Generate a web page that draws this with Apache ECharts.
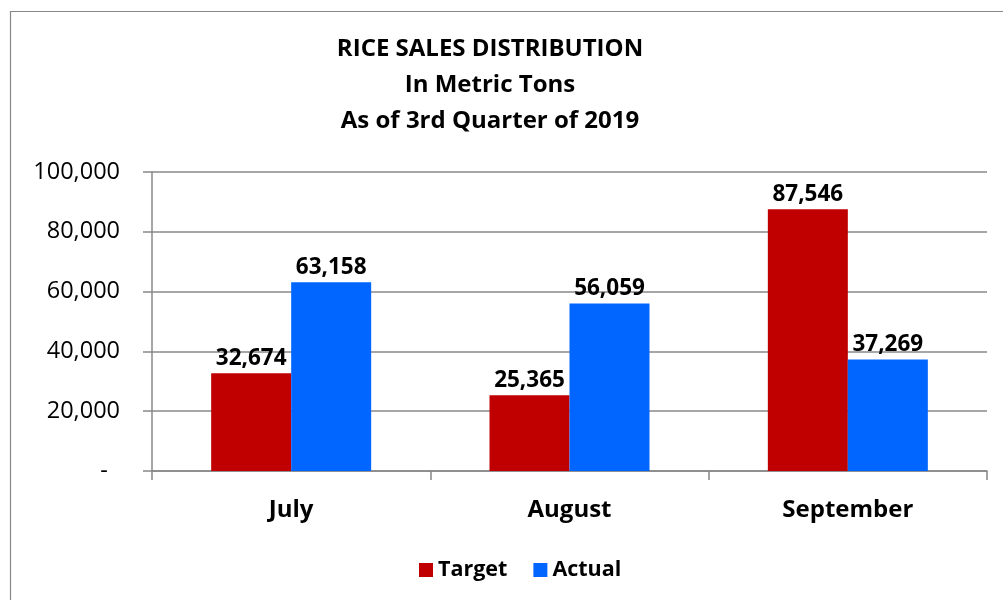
<!DOCTYPE html>
<html><head><meta charset="utf-8">
<script src="https://cdn.jsdelivr.net/npm/echarts@6/dist/echarts.min.js"></script>
<style>html,body{margin:0;padding:0;background:#fff}#c{width:1003px;height:600px}</style>
</head><body><div id="c"></div>
<script>
const categories = ['July', 'August', 'September'];
const targetValues = [32674, 25365, 87546];
const actualValues = [63158, 56059, 37269];
const seriesNames = ['Target', 'Actual'];
const yTicks = [0, 20000, 40000, 60000, 80000, 100000];

const FONT = '"Open Sans", Lato, "Liberation Sans", sans-serif';
const fmt = v => v === 0 ? '-  ' : v.toLocaleString('en-US');

const chart = echarts.init(document.getElementById('c'), null, {renderer: 'canvas'});
chart.setOption({
  animation: false,
  backgroundColor: '#fff',
  textStyle: {fontFamily: FONT},
  title: {
    text: 'RICE SALES DISTRIBUTION\nIn Metric Tons\nAs of 3rd Quarter of 2019',
    left: 485, top: 26, textAlign: 'center',
    textStyle: {fontFamily: FONT, fontSize: 24, fontWeight: 'bold', color: '#000', lineHeight: 36}
  },
  graphic: [{
    type: 'rect', shape: {x: 10.5, y: 11.5, width: 1010, height: 600},
    style: {fill: 'none', stroke: '#888', lineWidth: 1.2}, silent: true
  }],
  legend: {
    data: seriesNames, top: 554, left: 414,
    itemWidth: 14, itemHeight: 14, itemGap: 26,
    icon: 'rect',
    textStyle: {fontFamily: FONT, fontSize: 21.5, fontWeight: 'bold', color: '#000'}
  },
  grid: {left: 152, right: 16, top: 172, bottom: 129, containLabel: false},
  xAxis: {
    type: 'category', data: categories,
    axisLine: {lineStyle: {color: '#888', width: 1.5}},
    axisTick: {show: true, length: 9, lineStyle: {color: '#888', width: 1.5}},
    axisLabel: {fontFamily: FONT, fontSize: 24, fontWeight: 'bold', color: '#000', margin: 27}
  },
  yAxis: {
    type: 'value', min: yTicks[0], max: yTicks[yTicks.length - 1], interval: 20000,
    axisLine: {show: true, lineStyle: {color: '#888', width: 1.5}},
    axisTick: {show: true, length: 9, lineStyle: {color: '#888', width: 1.5}},
    splitLine: {lineStyle: {color: '#888', width: 1.5}},
    axisLabel: {fontFamily: FONT, fontSize: 23.5, color: '#000', margin: 32, formatter: fmt}
  },
  series: [
    {
      name: seriesNames[0], type: 'bar', data: targetValues, barWidth: 80, barGap: '0%',
      itemStyle: {color: '#C00000'},
      label: {show: true, position: 'top', distance: 3, formatter: p => fmt(p.value),
        fontFamily: FONT, fontSize: 22.5, fontWeight: 'bold', color: '#000'}
    },
    {
      name: seriesNames[1], type: 'bar', data: actualValues, barWidth: 80, barGap: '0%',
      itemStyle: {color: '#0066FF'},
      label: {show: true, position: 'top', distance: 3, formatter: p => fmt(p.value),
        fontFamily: FONT, fontSize: 22.5, fontWeight: 'bold', color: '#000'}
    }
  ]
});
</script></body></html>
